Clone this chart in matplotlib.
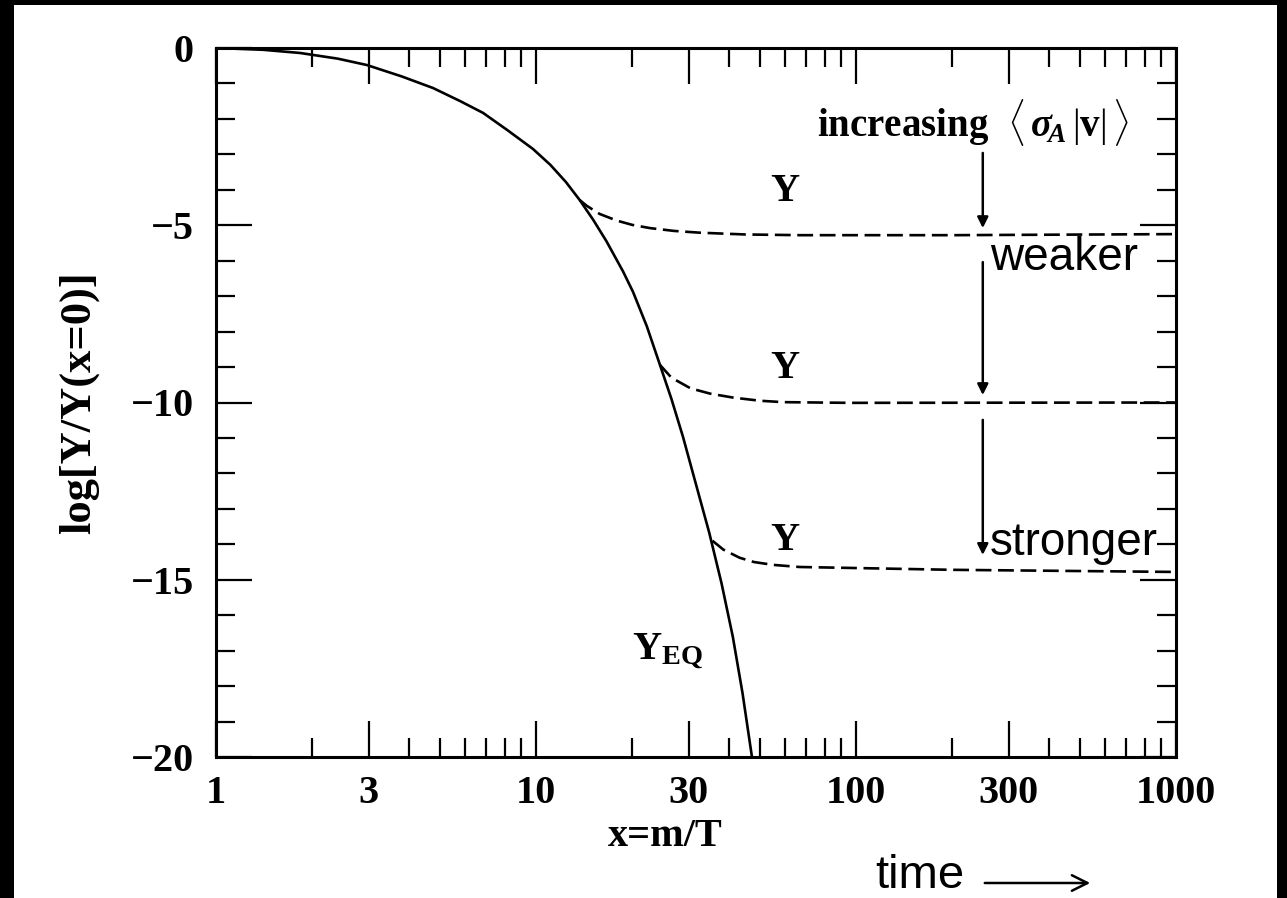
import numpy as np
import matplotlib
matplotlib.use("Agg")
import matplotlib.pyplot as plt
from matplotlib.patches import Rectangle, FancyArrowPatch
from matplotlib.ticker import FixedLocator, NullFormatter

plt.rcParams['mathtext.fontset'] = 'custom'
plt.rcParams['mathtext.rm'] = 'Liberation Serif'
plt.rcParams['mathtext.bf'] = 'Liberation Serif:bold'
plt.rcParams['mathtext.it'] = 'Liberation Serif:italic:bold'

# equilibrium abundance Y_EQ
x_eq = [1, 1.4, 1.83, 2.4, 2.96, 3.8, 4.77, 5.8, 6.83, 8.12, 9.79, 11.1, 12.4, 13.7,
        15.1, 16.6, 18.7, 20.1, 22.2, 24.4, 26.5, 28.8, 31.6, 34.8, 38.0, 41.2, 44.2, 47.3]
y_eq = [0, -0.05, -0.14, -0.3, -0.48, -0.8, -1.13, -1.5, -1.83, -2.31, -2.85, -3.3, -3.78,
        -4.29, -4.85, -5.45, -6.3, -6.88, -7.85, -8.94, -9.9, -10.97, -12.3, -13.68,
        -15.1, -16.6, -18.2, -20.0]

# freeze-out curves (dashed)
x_f1 = [13.7, 14.4, 15.8, 17.9, 20.0, 22.7, 27.0, 32.5, 45.0, 66.6, 200, 1000]
y_f1 = [-4.29, -4.45, -4.68, -4.87, -4.99, -5.08, -5.16, -5.21, -5.26, -5.28, -5.28, -5.25]
x_f2 = [24.4, 26.5, 30.4, 35.0, 41.2, 50.0, 59.1, 95.9, 1000]
y_f2 = [-8.94, -9.3, -9.6, -9.75, -9.86, -9.95, -9.99, -10.01, -10.0]
x_f3 = [35.6, 38.5, 43.3, 48.0, 55, 66.6, 200, 1000]
y_f3 = [-13.9, -14.15, -14.38, -14.5, -14.58, -14.64, -14.72, -14.78]

x_major = [1, 3, 10, 30, 100, 300, 1000]
x_labels = ['1', '3', '10', '30', '100', '300', '1000']
y_major = [0, -5, -10, -15, -20]
y_labels = ['0', '\u22125', '\u221210', '\u221215', '\u221220']

W, H = 1287, 898
fig = plt.figure(figsize=(W / 100, H / 100), dpi=100, facecolor='black')
fig.patches.append(Rectangle((14 / W, 0), (1277 - 14) / W, 1 - 5 / H,
                             transform=fig.transFigure, facecolor='white',
                             edgecolor='none', zorder=-5))

ax = fig.add_axes([216 / W, 1 - 757 / H, (1176 - 216) / W, (757 - 48) / H])
ax.patch.set_alpha(0)
ax.set_xscale('log')
ax.set_xlim(1, 1000)
ax.set_ylim(-20, 0)

ax.plot(x_eq, y_eq, color='black', lw=1.9, solid_capstyle='butt')
for xs, ys in [(x_f1, y_f1), (x_f2, y_f2), (x_f3, y_f3)]:
    ax.plot(xs, ys, color='black', lw=1.9, dashes=(6, 2.5))

serif = 'Liberation Serif'
ax.xaxis.set_major_locator(FixedLocator(x_major))
ax.xaxis.set_minor_locator(FixedLocator([2, 4, 5, 6, 7, 8, 9, 20, 40, 50, 60, 70, 80, 90,
                                         200, 400, 500, 600, 700, 800, 900]))
ax.set_xticklabels(x_labels)
ax.xaxis.set_minor_formatter(NullFormatter())
ax.yaxis.set_major_locator(FixedLocator(y_major))
ax.yaxis.set_minor_locator(FixedLocator(np.arange(-19, 0)))
ax.set_yticklabels(y_labels)

ax.tick_params(which='both', direction='in', top=True, right=True, width=1.6)
ax.tick_params(which='major', length=26)
ax.tick_params(which='minor', length=13.5)
ax.tick_params(axis='x', which='major', pad=13)
ax.tick_params(axis='y', which='major', pad=16)
for lab in ax.get_xticklabels() + ax.get_yticklabels():
    lab.set_fontfamily(serif)
    lab.set_fontweight('bold')
    lab.set_fontsize(29)
for sp in ax.spines.values():
    sp.set_linewidth(2.2)

ax.set_xlabel('x=m/T', fontfamily=serif, fontweight='bold', fontsize=29)
ax.xaxis.set_label_coords(0.468, -0.086)
ax.set_ylabel('log[Y/Y(x=0)]', fontfamily=serif, fontweight='bold', fontsize=32)
ax.yaxis.set_label_coords(-0.122, 0.5)

# annotations
ax.text(75.5, -2.09, r'increasing  $\langle\,\sigma_{\!A}\,|\mathbf{v}|\,\rangle$',
        fontfamily=serif, fontweight='bold', fontsize=28, va='center', ha='left')
for yy in [-4.06, -9.03, -13.88]:
    ax.text(60, yy, 'Y', fontfamily=serif, fontweight='bold', fontsize=29,
            ha='center', va='center')
ax.text(20.0, -17.04, r'$\mathbf{Y}_{\mathbf{EQ}}$', fontsize=29, ha='left', va='center')

for y0, y1 in [(-2.96, -5.08), (-6.04, -9.79), (-10.49, -14.30)]:
    ax.annotate('', xy=(249, y1), xytext=(249, y0),
                arrowprops=dict(arrowstyle='-|>', color='black', lw=1.8,
                                mutation_scale=16, shrinkA=0, shrinkB=0))

ax.text(262, -6.27, 'weaker', fontfamily='Liberation Sans', fontsize=33,
        ha='left', va='baseline')
ax.text(262, -14.30, 'stronger', fontfamily='Liberation Sans', fontsize=33,
        ha='left', va='baseline')

fig.text(875 / W, 0, 'time', fontfamily='Liberation Sans', fontsize=34,
         ha='left', va='bottom')
fig.add_artist(FancyArrowPatch(
    (982 / W, 1 - 883 / H), (1093 / W, 1 - 883 / H), transform=fig.transFigure,
    arrowstyle='->', mutation_scale=28, lw=1.8, color='black'))

fig.savefig('out.png', dpi=100, facecolor=fig.get_facecolor())
